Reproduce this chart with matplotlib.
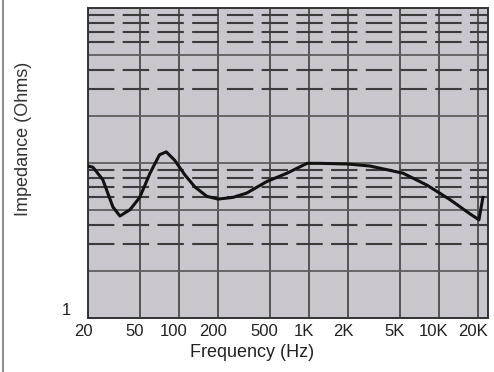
import matplotlib
matplotlib.use("Agg")
import matplotlib.pyplot as plt
import matplotlib.transforms as mtransforms
from matplotlib.lines import Line2D

plt.rcParams['font.family'] = ['Liberation Sans', 'DejaVu Sans']
plt.rcParams['lines.scale_dashes'] = False

# Data
freq_hz = [20, 21.8, 26, 31.1, 35.2, 42.1, 50, 60, 71, 80, 93, 111, 133, 164,
           200, 261, 333, 476, 680, 968, 1212, 2000, 2950, 5300, 8100, 12200,
           17350, 20360, 21840]
impedance_ohms = [9.56, 9.4, 7.8, 5.2, 4.55, 5.0, 6.0, 8.6, 11.3, 11.8, 10.4, 8.4,
                  7.0, 6.1, 5.85, 6.0, 6.4, 7.6, 8.6, 9.95, 9.95, 9.85, 9.56, 8.6,
                  7.2, 5.8, 4.7, 4.3, 6.0]

x_ticks = [20, 50, 100, 200, 500, 1000, 2000, 5000, 10000, 20000]
x_tick_labels = ['20', '50', '100', '200', '500', '1K', '2K', '5K', '10K', '20K']
y_major = [1, 2, 5, 10, 20, 50, 100]
y_major_labels = ['1', '', '', '', '', '', '']
y_minor = [3, 4, 6, 7, 8, 9, 30, 40, 60, 70, 80, 90]

W, H = 494, 372
fig = plt.figure(figsize=(W / 100, H / 100), dpi=100)
fig.patch.set_facecolor('white')
ax = fig.add_axes([88 / W, 1 - 318 / H, 400 / W, 310 / H])
ax.set_facecolor('#c9c6cd')

ax.set_xscale('log')
ax.set_yscale('log')
ax.set_xlim(20, 23900)
ax.set_ylim(1, 100)

ax.set_xticks(x_ticks)
ax.set_xticklabels(x_tick_labels)
ax.set_xticks([], minor=True)
ax.set_yticks(y_major)
ax.set_yticklabels(y_major_labels)
ax.set_yticks(y_minor, minor=True)
ax.set_yticklabels([''] * len(y_minor), minor=True)

ax.tick_params(axis='both', which='both', length=0)
ax.tick_params(axis='x', labelsize=12, pad=4, colors='#222222')
ax.tick_params(axis='y', labelsize=12, pad=12, colors='#222222')
for lab in ax.get_yticklabels():
    lab.set_verticalalignment('bottom')
offset = mtransforms.ScaledTranslation(-5 / 100, 0, fig.dpi_scale_trans)
for lab in ax.get_xticklabels():
    lab.set_transform(lab.get_transform() + offset)

ax.grid(True, axis='x', which='major', color='#4a4a4a', linewidth=1.3, linestyle='-')
ax.grid(True, axis='y', which='major', color='#5e5e5e', linewidth=1.3, linestyle='-')
ax.grid(True, axis='y', which='minor', color='#3c3c3c', linewidth=1.5,
        linestyle=(0, (19, 6)))
ax.set_axisbelow(True)

for sp in ax.spines.values():
    sp.set_color('#333333')
    sp.set_linewidth(1.4)

ax.plot(freq_hz, impedance_ohms, color='#111111', linewidth=2.2, zorder=5,
        solid_joinstyle='round')

ax.set_xlabel('Frequency (Hz)', fontsize=13, color='#222222')
ax.xaxis.set_label_coords(0.41, -0.085)
ax.set_ylabel('Impedance (Ohms)', fontsize=13, color='#333333')
ax.yaxis.set_label_coords(-0.14, 0.577)

# clipped title at very top (only descenders visible, as in the reference)
fig.text(0.60, 1 + 4 / H, 'Impedance vs. Frequency (Ohms)', fontsize=13.5,
         ha='center', va='baseline', color='#222222')

# left image border
fig.add_artist(Line2D([2.5 / W, 2.5 / W], [0, 1], color='#777777', linewidth=1.2))

fig.savefig('out.png', dpi=100, facecolor=fig.get_facecolor())
